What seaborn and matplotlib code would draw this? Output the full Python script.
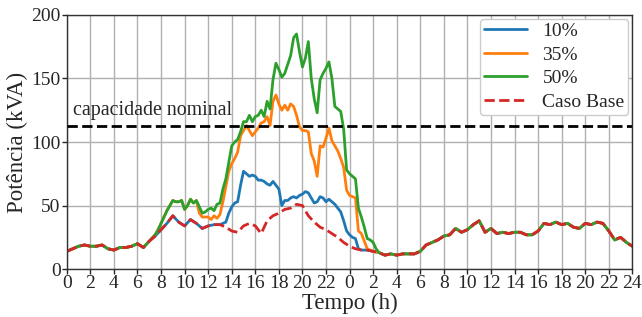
import numpy as np
import pandas as pd
import matplotlib
matplotlib.use("Agg")
import matplotlib.pyplot as plt
import seaborn as sns

# ---------------- data ----------------
# Base case (Caso Base), every 0.5 h over 48 h
base_step = 0.5
caso_base = [14, 16, 18, 19, 18, 18, 19, 16, 15, 17, 17, 18, 20, 17, 22, 26,
             31, 36, 42, 37, 34, 39, 36, 32, 34, 35, 35, 33, 30, 29, 34, 36,
             34, 28, 38, 42, 44, 47, 48, 51, 50, 42, 37, 33, 31, 28, 25, 21,
             18, 16, 15, 15, 14, 13, 11, 12, 11, 12, 12, 12, 14, 19, 21, 23,
             26, 27, 32, 29, 31, 35, 38, 29, 32, 28, 29, 28, 29, 29, 27, 27,
             30, 36, 35, 37, 35, 36, 33, 32, 36, 35, 37, 36, 30, 23, 25, 21,
             18]

# Scenario windows (every 0.25 h), outside them the curves follow the base case
win_step = 0.25
start_50 = 7.5
pen_50 = [27, 31, 36, 41, 46, 50, 54, 53, 53, 54, 47, 50, 55, 52, 54, 49,
          44, 45, 47, 48, 46, 51, 52, 63, 71, 84, 97, 100, 102, 108, 116, 116,
          121, 116, 120, 121, 125, 120, 132, 126, 149, 162, 157, 151, 154, 161, 168, 182,
          185, 171, 159, 166, 179, 150, 134, 123, 149, 154, 158, 163, 150, 128, 126, 124,
          110, 78, 75, 73, 71, 48, 41, 33, 24, 23, 21, 16, 13]

start_35 = 7.5
pen_35 = [27, 31, 36, 41, 46, 50, 54, 53, 53, 54, 47, 50, 55, 52, 54, 44,
          41, 41, 41, 39, 42, 40, 43, 53, 65, 77, 83, 87, 92, 105, 109, 113,
          109, 105, 108, 111, 115, 116, 120, 113, 132, 137, 130, 125, 129, 125, 130, 128,
          121, 112, 109, 109, 108, 91, 85, 73, 97, 96, 103, 111, 101, 97, 93, 87,
          80, 62, 58, 57, 56, 30, 28, 22, 16]

start_10 = 13.5
pen_10 = [37, 44, 49, 52, 53, 66, 77, 75, 73, 74, 73, 70, 70, 69, 67, 66,
          69, 66, 63, 50, 54, 54, 56, 57, 56, 58, 59, 61, 60, 56, 52, 53,
          57, 56, 53, 55, 53, 51, 48, 45, 38, 30, 27, 25, 24, 16, 15]

capacidade = 112.5
series_labels = ["10%", "35%", "50%", "Caso Base"]
series_colors = ["tab:blue", "tab:orange", "tab:green", "tab:red"]
xtick_pos = list(range(0, 49, 2))
xtick_labels = [str(h % 24) if h < 48 else "24" for h in xtick_pos]

# ---------------- build ----------------
t_base = np.arange(len(caso_base)) * base_step
base_arr = np.array(caso_base, dtype=float)


def full_series(start, win):
    t_w = start + np.arange(len(win)) * win_step
    before = t_base < start - 1e-9
    after = t_base > t_w[-1] + 1e-9
    t = np.concatenate([t_base[before], t_w, t_base[after]])
    v = np.concatenate([base_arr[before], np.array(win, float), base_arr[after]])
    return t, v


frames = []
for lab, (st, w) in zip(series_labels[:3], [(start_10, pen_10), (start_35, pen_35), (start_50, pen_50)]):
    t, v = full_series(st, w)
    frames.append(pd.DataFrame({"t": t, "p": v, "serie": lab}))
frames.append(pd.DataFrame({"t": t_base, "p": base_arr, "serie": "Caso Base"}))
df = pd.concat(frames, ignore_index=True)

# ---------------- plot ----------------
sns.set_style("ticks")
plt.rcParams["font.family"] = ["Liberation Serif", "DejaVu Serif"]
plt.rcParams["mathtext.fontset"] = "stix"

fig = plt.figure(figsize=(6.42, 3.17), dpi=100)
ax = fig.add_axes([0.104, 0.151, 0.881, 0.802])

for lab, col in zip(series_labels, series_colors):
    sub = df[df["serie"] == lab]
    ls = "--" if lab == "Caso Base" else "-"
    sns.lineplot(data=sub, x="t", y="p", ax=ax, color=col, label=lab,
                 linestyle=ls, linewidth=2, estimator=None, sort=False)

ax.axhline(capacidade, color="black", linestyle="--", linewidth=2, zorder=3)
ax.text(0.5, 117.5, "capacidade nominal", fontsize=14.3, ha="left", va="bottom")

ax.set_xlim(0, 48)
ax.set_ylim(0, 200)
ax.set_xticks(xtick_pos)
ax.set_xticklabels(xtick_labels)
ax.set_yticks([0, 50, 100, 150, 200])
ax.tick_params(labelsize=14, pad=1, length=3.5, width=1)
ax.set_xlabel("Tempo (h)", fontsize=16.5, labelpad=0)
ax.set_ylabel("Potência (kVA)", fontsize=16.5, labelpad=2)
ax.grid(True, color="#b0b0b0", linewidth=1)
for s in ax.spines.values():
    s.set_color("#333333")
    s.set_linewidth(1)

leg = ax.legend(loc="upper right", fontsize=14, handlelength=2.2, framealpha=1,
                borderaxespad=0.2, labelspacing=0.3, borderpad=0.2,
                handletextpad=0.8)

fig.savefig("out.png", dpi=100)
